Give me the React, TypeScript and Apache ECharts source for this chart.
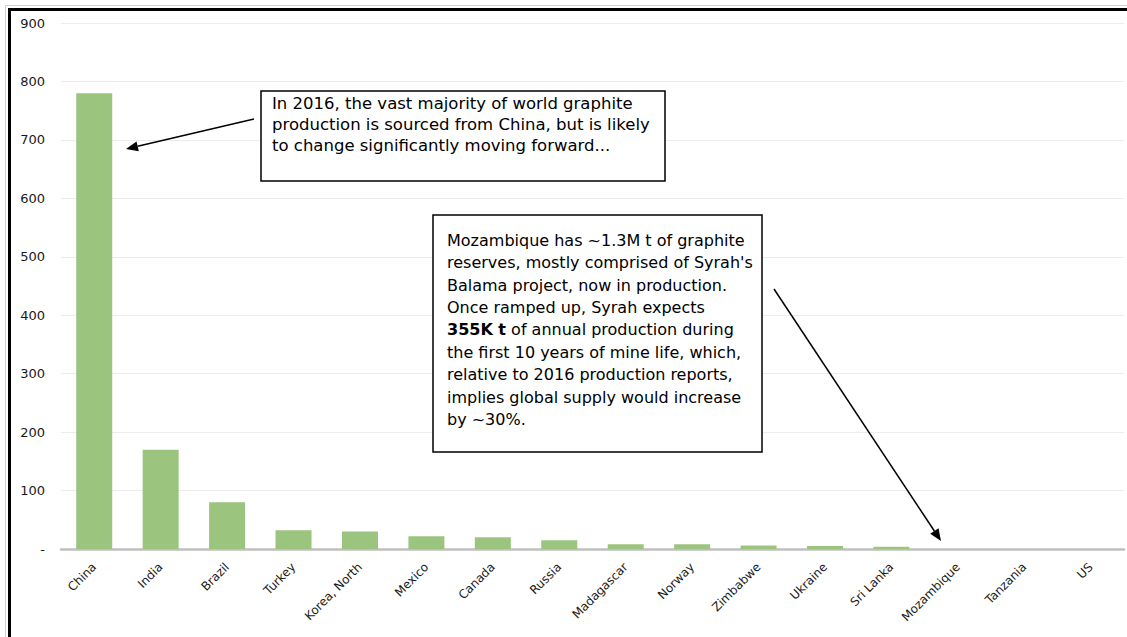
import React, { useEffect, useRef } from "react";
import * as echarts from "echarts";

const categories = [
  "China", "India", "Brazil", "Turkey", "Korea, North", "Mexico", "Canada", "Russia",
  "Madagascar", "Norway", "Zimbabwe", "Ukraine", "Sri Lanka", "Mozambique", "Tanzania", "US",
];
const production = [780, 170, 80, 32, 30, 22, 20, 15, 8, 8, 6, 5, 4, 0, 0, 0];
const yMin = 0;
const yMax = 900;
const yStep = 100;

const note1 =
  "In 2016, the vast majority of world graphite\nproduction is sourced from China, but is likely\nto change significantly moving forward...";
const note2 =
  "Mozambique has ~1.3M t of graphite\nreserves, mostly comprised of Syrah's\nBalama project, now in production.\nOnce ramped up, Syrah expects\n{b|355K t} of annual production during\nthe first 10 years of mine life, which,\nrelative to 2016 production reports,\nimplies global supply would increase\nby ~30%.";

const FONT = "DejaVu Sans";

function arrow(x1: number, y1: number, x2: number, y2: number) {
  const dx = x2 - x1;
  const dy = y2 - y1;
  const len = Math.sqrt(dx * dx + dy * dy);
  const ux = dx / len;
  const uy = dy / len;
  const hl = 12;
  const hw = 5;
  const bx = x2 - ux * hl;
  const by = y2 - uy * hl;
  return [
    {
      type: "line",
      shape: { x1, y1, x2: bx, y2: by },
      style: { stroke: "#000", lineWidth: 1.5 },
      z: 10,
    },
    {
      type: "polygon",
      shape: {
        points: [
          [x2, y2],
          [bx - uy * hw, by + ux * hw],
          [bx + uy * hw, by - ux * hw],
        ],
      },
      style: { fill: "#000" },
      z: 10,
    },
  ];
}

export default function App() {
  const ref = useRef<HTMLDivElement>(null);
  useEffect(() => {
    if (!ref.current) return;
    const chart = echarts.init(ref.current, undefined, { renderer: "svg" });
    chart.setOption({
      animation: false,
      backgroundColor: "#fff",
      grid: { left: 61, right: 3, top: 23, bottom: 88, containLabel: false },
      xAxis: {
        type: "category",
        data: categories,
        axisLine: { lineStyle: { color: "#bfbfbf", width: 2.5 } },
        axisTick: { show: false },
        axisLabel: {
          rotate: 45,
          fontSize: 12,
          fontFamily: FONT,
          color: "#1a1a1a",
          margin: 16,
          interval: 0,
        },
      },
      yAxis: {
        type: "value",
        min: yMin,
        max: yMax,
        interval: yStep,
        axisLine: { show: false },
        axisTick: { show: false },
        splitLine: { lineStyle: { color: "#ececec", width: 1 } },
        axisLabel: {
          fontSize: 13,
          fontFamily: FONT,
          color: "#1a1a1a",
          margin: 16,
          formatter: (v: number) => (v === 0 ? "-" : String(v)),
        },
      },
      series: [
        {
          type: "bar",
          data: production,
          barWidth: 36,
          itemStyle: { color: "#9bc57e" },
        },
      ],
      graphic: [
        { type: "line", shape: { x1: 5.5, y1: 5.5, x2: 1127, y2: 5.5 }, style: { stroke: "#d0d0d0", lineWidth: 1 } },
        { type: "line", shape: { x1: 5.5, y1: 5.5, x2: 5.5, y2: 637 }, style: { stroke: "#d0d0d0", lineWidth: 1 } },
        { type: "line", shape: { x1: 8, y1: 9.5, x2: 1127, y2: 9.5 }, style: { stroke: "#000", lineWidth: 3 } },
        { type: "line", shape: { x1: 9.5, y1: 8, x2: 9.5, y2: 637 }, style: { stroke: "#000", lineWidth: 3 } },
        {
          type: "rect",
          shape: { x: 261, y: 91, width: 404, height: 90 },
          style: { fill: "#fff", stroke: "#000", lineWidth: 1.5 },
          z: 5,
        },
        {
          type: "text",
          x: 272,
          y: 93,
          z: 6,
          style: {
            text: note1,
            fontSize: 16.5,
            fontFamily: FONT,
            lineHeight: 21,
            fill: "#000",
            verticalAlign: "top",
          },
        },
        {
          type: "rect",
          shape: { x: 433, y: 215, width: 329, height: 237 },
          style: { fill: "#fff", stroke: "#000", lineWidth: 1.5 },
          z: 5,
        },
        {
          type: "text",
          x: 447,
          y: 229,
          z: 6,
          style: {
            text: note2,
            fontSize: 16,
            fontFamily: FONT,
            lineHeight: 22.4,
            fill: "#000",
            verticalAlign: "top",
            rich: {
              b: {
                fontSize: 16,
                fontFamily: FONT,
                fontWeight: "bold",
                lineHeight: 22.4,
                fill: "#000",
              },
            },
          },
        },
        ...arrow(254, 119, 126, 149),
        ...arrow(774, 289, 941, 541),
      ],
    });
    return () => chart.dispose();
  }, []);
  return (
    <div
      ref={ref}
      style={{ position: "absolute", left: 0, top: 0, width: 1127, height: 637 }}
    />
  );
}
